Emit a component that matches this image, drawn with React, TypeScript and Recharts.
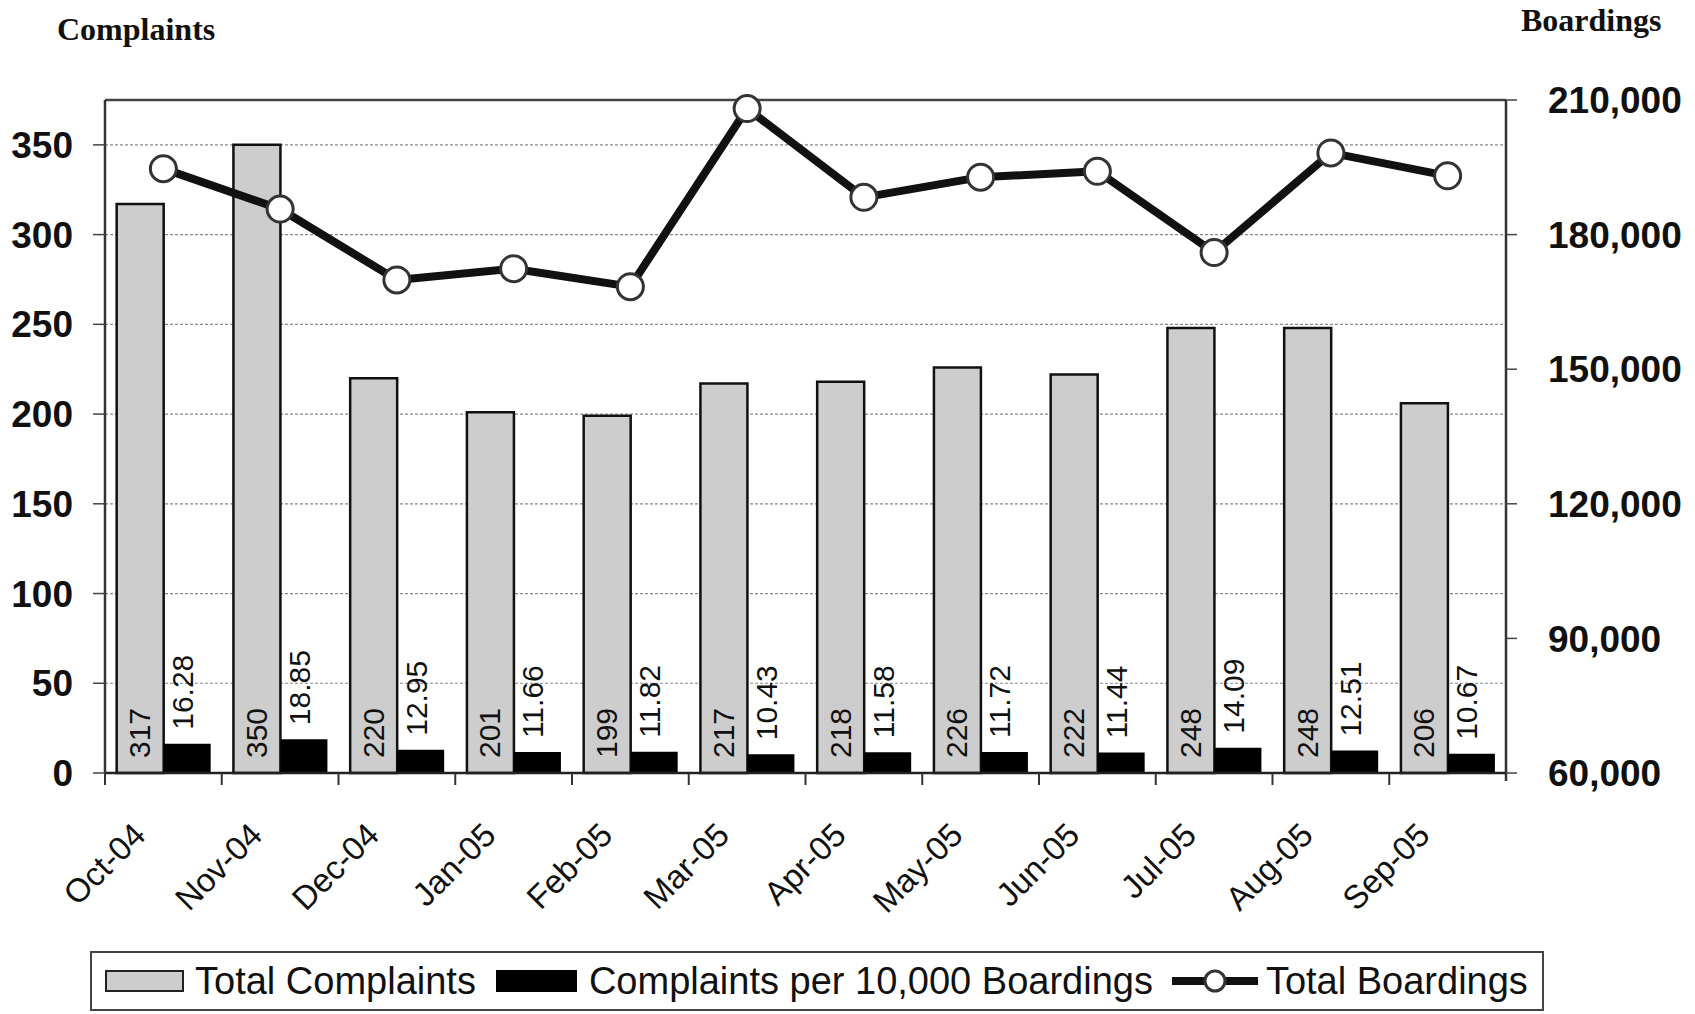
import React from 'react';
import {
  ComposedChart,
  Bar,
  Line,
  XAxis,
  YAxis,
  CartesianGrid,
  Legend,
  LabelList,
  Label,
  ReferenceLine
} from 'recharts';

const months = [
  'Oct-04', 'Nov-04', 'Dec-04', 'Jan-05', 'Feb-05', 'Mar-05',
  'Apr-05', 'May-05', 'Jun-05', 'Jul-05', 'Aug-05', 'Sep-05'
];
const totalComplaints = [317, 350, 220, 201, 199, 217, 218, 226, 222, 248, 248, 206];
const complaintsPer10k = [16.28, 18.85, 12.95, 11.66, 11.82, 10.43, 11.58, 11.72, 11.44, 14.09, 12.51, 10.67];
const totalBoardings = [
  194700, 185700, 169900, 172400, 168400, 208100,
  188300, 192800, 194100, 176000, 198200, 193100
];

const complaintTicks = [0, 50, 100, 150, 200, 250, 300, 350];
const boardingTicks = [60000, 90000, 120000, 150000, 180000, 210000];

const chartData = months.map((month, i) => ({
  month,
  total: totalComplaints[i],
  per10k: complaintsPer10k[i],
  boardings: totalBoardings[i]
}));

const SANS = '"Liberation Sans", Arial, sans-serif';
const SERIF = '"Liberation Serif", "Times New Roman", serif';
const BAR_GREY = '#cdcdcd';
const INK = '#111';
const LABEL_SIZE = 30;

// month labels sit at 45 degrees; tick marks go on the band edges, not the centres
const MonthTick = (props: any) => {
  const { x, y, payload, index, visibleTicksCount, width } = props;
  const half = payload.offset ?? width / visibleTicksCount / 2;
  const last = index === visibleTicksCount - 1;
  const tx = x - 16;
  const ty = y + 64;
  return (
    <g>
      <line x1={x - half} x2={x - half} y1={y} y2={y + 12} stroke="#333" strokeWidth={2} />
      {last && <line x1={x + half} x2={x + half} y1={y} y2={y + 8} stroke="#333" strokeWidth={2.5} />}
      <text
        x={tx}
        y={ty}
        transform={`rotate(-45 ${tx} ${ty})`}
        textAnchor="end"
        fontSize={33}
        fontFamily={SANS}
        fill={INK}
      >
        {payload.value}
      </text>
    </g>
  );
};

// value written upward from the foot of the grey bar
const renderTotalLabel = (props: any) => {
  const x = Number(props.x);
  const y = Number(props.y);
  const w = Number(props.width);
  const h = Number(props.height);
  const lx = x + w / 2 + LABEL_SIZE * 0.33;
  const ly = y + h - 15;
  return (
    <text
      x={lx}
      y={ly}
      transform={`rotate(-90 ${lx} ${ly})`}
      textAnchor="start"
      fontSize={LABEL_SIZE}
      fontFamily={SANS}
      fill={INK}
    >
      {props.value}
    </text>
  );
};

// rate written upward just above the black bar
const renderRateLabel = (props: any) => {
  const x = Number(props.x);
  const y = Number(props.y);
  const w = Number(props.width);
  const lx = x + w / 2 + LABEL_SIZE * 0.33 - 4;
  const ly = y - 14;
  return (
    <text
      x={lx}
      y={ly}
      transform={`rotate(-90 ${lx} ${ly})`}
      textAnchor="start"
      fontSize={LABEL_SIZE}
      fontFamily={SANS}
      fill={INK}
    >
      {Number(props.value).toFixed(2)}
    </text>
  );
};

const LegendBox = () => (
  <div
    style={{
      boxSizing: 'border-box',
      width: '100%',
      height: '100%',
      border: '2px solid #444',
      display: 'flex',
      alignItems: 'center',
      paddingLeft: 13,
      fontFamily: SANS,
      fontSize: 38,
      color: INK,
      whiteSpace: 'nowrap'
    }}
  >
    <svg width={79} height={22} style={{ marginRight: 11 }}>
      <rect x={1} y={1} width={77} height={20} fill={BAR_GREY} stroke="#222" strokeWidth={2} />
    </svg>
    <span style={{ marginRight: 20 }}>Total Complaints</span>
    <svg width={81} height={22} style={{ marginRight: 12 }}>
      <rect x={0} y={0} width={81} height={22} fill="#000" />
    </svg>
    <span style={{ marginRight: 19 }}>Complaints per 10,000 Boardings</span>
    <svg width={86} height={30} style={{ marginRight: 8 }}>
      <line x1={0} x2={86} y1={15} y2={15} stroke={INK} strokeWidth={8} />
      <circle cx={43} cy={15} r={10} fill="#fff" stroke="#333" strokeWidth={3} />
    </svg>
    <span>Total Boardings</span>
  </div>
);

const App: React.FC = () => {
  return (
    <div style={{ position: 'absolute', left: 0, top: 0, width: 1695, height: 1014, background: '#fff' }}>
      <ComposedChart
        width={1695}
        height={1014}
        data={chartData}
        margin={{ top: 100, right: 0, bottom: 141, left: 0 }}
        barCategoryGap="10%"
        barGap={0}
      >
        <CartesianGrid yAxisId="left" vertical={false} stroke="#888" strokeDasharray="3 2" strokeWidth={1.2} />
        <XAxis
          dataKey="month"
          height={100}
          interval={0}
          tickSize={0}
          tickMargin={0}
          tickLine={false}
          axisLine={{ stroke: '#222', strokeWidth: 2.5 }}
          tick={<MonthTick />}
        />
        <YAxis
          yAxisId="left"
          width={105}
          domain={[0, 375]}
          ticks={complaintTicks}
          interval={0}
          tickSize={12}
          tickMargin={20}
          axisLine={{ stroke: '#333', strokeWidth: 2.5 }}
          tickLine={{ stroke: '#444', strokeWidth: 1.5 }}
          tick={{ fontSize: 37, fontWeight: 'bold', fontFamily: SANS, fill: INK }}
        >
          <Label
            content={(p: any) => (
              <text
                x={p.viewBox.x + 57}
                y={p.viewBox.y - 60}
                fontSize={32}
                fontWeight="bold"
                fontFamily={SERIF}
                fill={INK}
              >
                Complaints
              </text>
            )}
          />
        </YAxis>
        <YAxis
          yAxisId="right"
          orientation="right"
          width={189}
          domain={[60000, 210000]}
          ticks={boardingTicks}
          interval={0}
          tickSize={11}
          tickMargin={31}
          tickFormatter={(v: number) => v.toLocaleString('en-US')}
          axisLine={{ stroke: '#333', strokeWidth: 2.5 }}
          tickLine={{ stroke: '#444', strokeWidth: 1.5 }}
          tick={{ fontSize: 37, fontWeight: 'bold', fontFamily: SANS, fill: INK }}
        >
          <Label
            content={(p: any) => (
              <text
                x={p.viewBox.x + 15}
                y={p.viewBox.y - 69}
                fontSize={32}
                fontWeight="bold"
                fontFamily={SERIF}
                fill={INK}
              >
                Boardings
              </text>
            )}
          />
        </YAxis>
        <ReferenceLine yAxisId="left" y={375} stroke="#444" strokeWidth={2.5} />
        <Bar yAxisId="left" dataKey="total" name="Total Complaints" fill={BAR_GREY} stroke={INK} strokeWidth={2.5} isAnimationActive={false}>
          <LabelList dataKey="total" content={renderTotalLabel} />
        </Bar>
        <Bar yAxisId="left" dataKey="per10k" name="Complaints per 10,000 Boardings" fill="#000" isAnimationActive={false}>
          <LabelList dataKey="per10k" content={renderRateLabel} />
        </Bar>
        <Line
          yAxisId="right"
          type="linear"
          dataKey="boardings"
          name="Total Boardings"
          stroke={INK}
          strokeWidth={8}
          strokeLinejoin="round"
          dot={{ r: 13, fill: '#fff', stroke: '#333', strokeWidth: 3 }}
          activeDot={false}
          isAnimationActive={false}
        />
        <Legend
          layout="horizontal"
          verticalAlign="middle"
          align="center"
          wrapperStyle={{ left: 90, top: 951, width: 1454, height: 60 }}
          content={<LegendBox />}
        />
      </ComposedChart>
    </div>
  );
};

export default App;
